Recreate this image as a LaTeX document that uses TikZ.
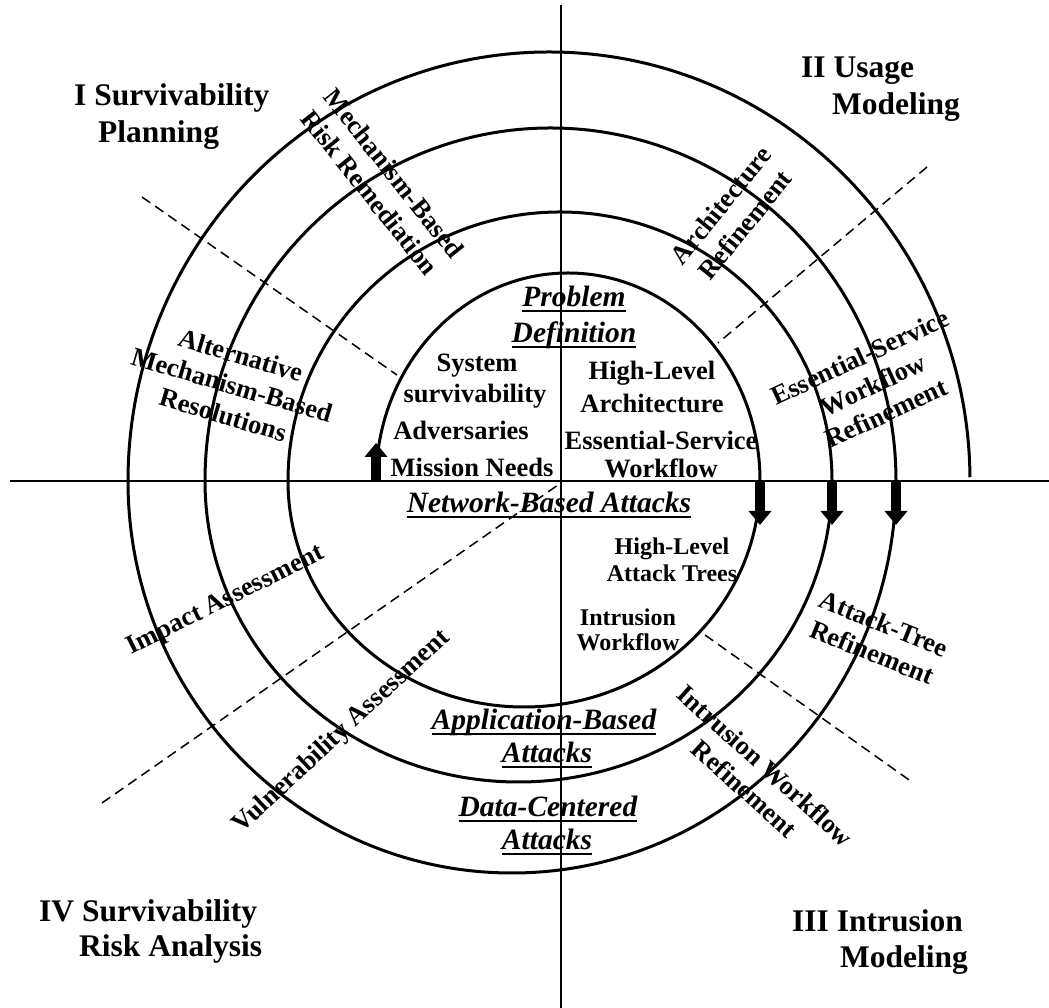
\documentclass[tikz,border=0pt]{standalone}
\usepackage{fontspec}
\setmainfont{Liberation Serif}
\usetikzlibrary{arrows.meta}
\newcommand\myul[1]{\mbox{\sbox0{#1}\rlap{\rule[-5.5pt]{\wd0}{2pt}}\usebox0}}
\begin{document}
\begin{tikzpicture}[x=1pt,y=1pt,
  spiral/.style={line width=3pt},
  axisline/.style={line width=2pt},
  sector/.style={line width=1.5pt, dash pattern=on 10pt off 6pt},
  title/.style={anchor=base west, inner sep=0pt, font=\fontsize{31.5}{36}\selectfont\bfseries},
  inner/.style={anchor=base, inner sep=0pt, font=\fontsize{26.5}{31}\selectfont\bfseries},
  smallin/.style={anchor=base, inner sep=0pt, font=\fontsize{24}{28}\selectfont\bfseries},
  ital/.style={anchor=base, inner sep=0pt, font=\fontsize{29.5}{34}\selectfont\bfseries\itshape},
  ring/.style={align=center, inner sep=0pt, font=\fontsize{26.5}{31}\selectfont\bfseries},
  blockarrow/.style={line width=10pt, -{Triangle[width=22pt,length=14pt]}}
]
\useasboundingbox (0,0) rectangle (1049,1008);
% axes
\coordinate (hl) at (10,527); \coordinate (hr) at (1049,527);
\coordinate (vt) at (561,1003); \coordinate (vb) at (561,0);
\draw[axisline] (hl) -- (hr);
\draw[axisline] (vt) -- (vb);
% spiral
\draw[spiral] (376,527)
  arc[start angle=180,end angle=0,x radius=192,y radius=208]
  arc[start angle=0,end angle=-180,x radius=236,y radius=226]
  arc[start angle=180,end angle=0,x radius=272,y radius=269]
  arc[start angle=0,end angle=-180,x radius=313.5,y radius=301]
  arc[start angle=180,end angle=0,x radius=345.5,y radius=353]
  arc[start angle=0,end angle=-180,x radius=384,y radius=392]
  arc[start angle=180,end angle=0.5,x radius=421,y radius=429];
% block arrows
\coordinate (ua0) at (376,527); \coordinate (ua1) at (376,565);
\coordinate (da0) at (760,527); \coordinate (da1) at (760,483);
\coordinate (db0) at (832,527); \coordinate (db1) at (832,483);
\coordinate (dc0) at (896,527); \coordinate (dc1) at (896,483);
\draw[blockarrow] (ua0) -- (ua1);
\draw[blockarrow] (da0) -- (da1);
\draw[blockarrow] (db0) -- (db1);
\draw[blockarrow] (dc0) -- (dc1);
% dashed sector lines
\coordinate (s1a) at (142,811); \coordinate (s1b) at (397,633);
\coordinate (s2a) at (927,841); \coordinate (s2b) at (718,665);
\coordinate (s3a) at (102,205); \coordinate (s3b) at (558,523);
\coordinate (s4a) at (705,373); \coordinate (s4b) at (912,226);
\draw[sector] (s1a) -- (s1b);
\draw[sector] (s2a) -- (s2b);
\draw[sector] (s3a) -- (s3b);
\draw[sector] (s4a) -- (s4b);
% quadrant titles
\node[title] (t1a) at (74,902) {I Survivability};
\node[title] (t1b) at (98,865) {Planning};
\node[title] (t2a) at (801,930) {II Usage};
\node[title] (t2b) at (832,893) {Modeling};
\node[title] (t4a) at (39,86) {IV Survivability};
\node[title] (t4b) at (79,51) {Risk Analysis};
\node[title] (t3a) at (792,76) {III Intrusion};
\node[title] (t3b) at (840,40) {Modeling};
% inner texts
\node[ital] (pd1) at (574,701) {\myul{Problem}};
\node[ital] (pd2) at (574,665) {\myul{Definition}};
\node[inner] (ss1) at (477,636) {System};
\node[inner] (ss2) at (475,605) {survivability};
\node[inner] (adv) at (461,568) {Adversaries};
\node[inner] (mis) at (472,531) {Mission Needs};
\node[inner] (hla1) at (652,628) {High-Level};
\node[inner] (hla2) at (652,595) {Architecture};
\node[inner] (esw1) at (661,558) {Essential-Service};
\node[inner] (esw2) at (661,530) {Workflow};
\node[ital] (nba) at (549,495) {\myul{Network-Based Attacks}};
\node[smallin] (hat1) at (672,453) {High-Level};
\node[smallin] (hat2) at (672,426) {Attack Trees};
\node[smallin] (iw1) at (628,382) {Intrusion};
\node[smallin] (iw2) at (628,357) {Workflow};
\node[ital] (aba1) at (544,278) {\myul{Application-Based}};
\node[ital] (aba2) at (547,245) {\myul{Attacks}};
\node[ital] (dca1) at (548,191) {\myul{Data-Centered}};
\node[ital] (dca2) at (547,158) {\myul{Attacks}};
% ring labels
\node[ring, rotate=-51.5] (mbr) at (382,825) {Mechanism-Based\\Risk Remediation};
\node[ring, rotate=51] (arf) at (733,793) {Architecture\\Refinement};
\node[ring, rotate=25] (eswr) at (873,623) {Essential-Service\\Workflow\\Refinement};
\node[ring, rotate=-16.5] (amr) at (232,623) {Alternative\\Mechanism-Based\\Resolutions};
\node[ring, rotate=26.5] (ia) at (226,407) {Impact Assessment};
\node[ring, rotate=43] (va) at (342,276) {Vulnerability Assessment};
\node[ring, rotate=-22] (atr) at (878,370) {Attack-Tree\\Refinement};
\node[ring, rotate=-42] (iwr) at (755,231) {Intrusion Workflow\\Refinement};
\end{tikzpicture}
\end{document}
